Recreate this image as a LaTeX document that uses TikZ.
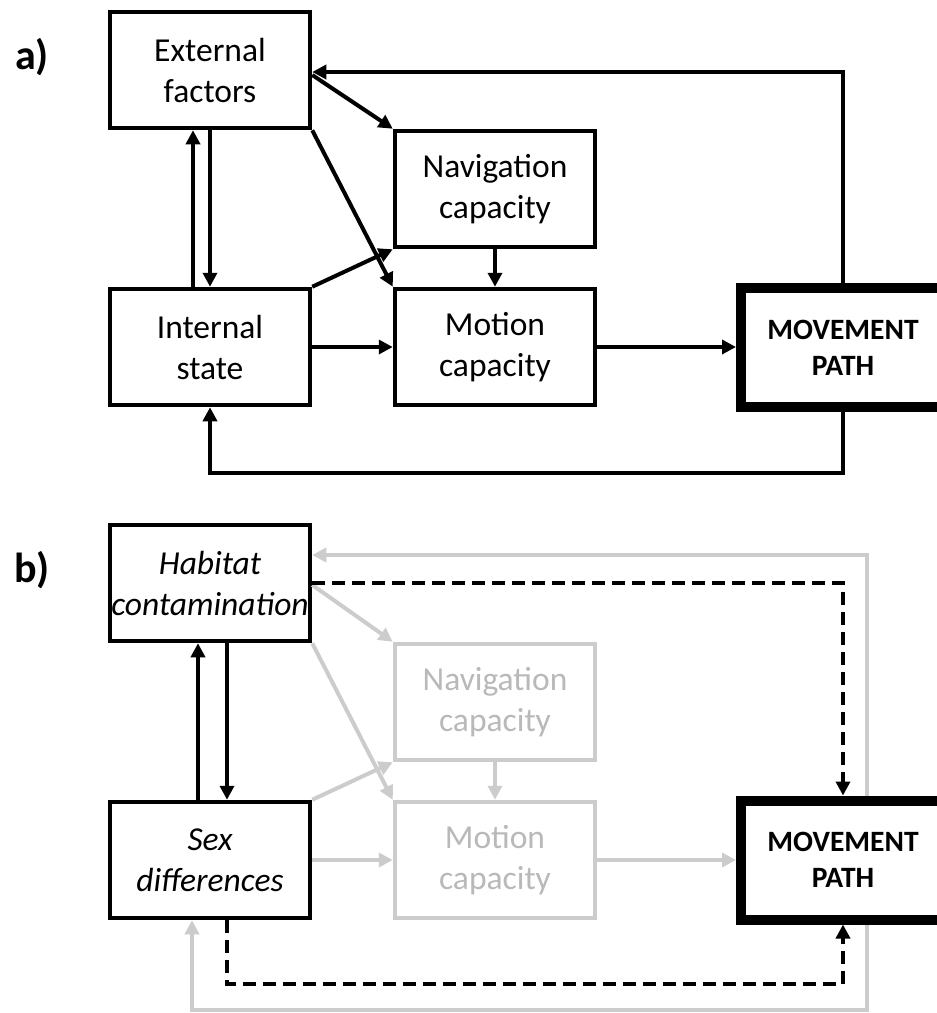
\documentclass[tikz,border=0pt]{standalone}
\usepackage{fontspec}
\setmainfont{Carlito}
\usetikzlibrary{arrows.meta}
\tikzset{
	box/.style={draw, line width=4.5pt, fill=white, minimum width=200pt, minimum height=116pt, inner sep=0pt, align=center, font=\fontsize{33.5}{41}\selectfont},
	mainbox/.style={box, line width=10pt, minimum width=204pt, minimum height=119pt, font=\bfseries\fontsize{29.5}{36}\selectfont},
	greybox/.style={box, draw=gray!40, text=gray!55},
	arr/.style={line width=4pt, -{Triangle[length=14pt, width=14pt]}},
	garr/.style={arr, draw=gray!40, color=gray!40},
	darr/.style={arr, dash pattern=on 13pt off 7pt},
	panel/.style={font=\bfseries\fontsize{42}{42}\selectfont}
}

\begin{document}
\begin{tikzpicture}[x=1pt, y=-1pt]
			%%%%% START %%%%%
			\useasboundingbox (0, 0) rectangle (937, 1013);
			
			%%%%% a) %%%%%
			\node[panel] (la) at (32, 57) {a)};
			
			\node[box] (ext) at (210, 70) {External\\factors};
			\node[box] (nav) at (495, 189) {Navigation\\capacity};
			\node[box] (int) at (210, 347) {Internal\\state};
			\node[box] (mot) at (495, 347) {Motion\\capacity};
			\node[mainbox] (mov) at (843, 347.5) {MOVEMENT\\PATH};
			
			\draw[arr] (mov.north) |- ([yshift=-2pt]ext.east);
			\draw[arr] (mov.south) -- ++(0, 61) -| (int.south);
			\draw[arr] ([xshift=-17pt]int.north) -- ([xshift=-17pt]ext.south);
			\draw[arr] (ext.south) -- (int.north);
			\draw[arr] ([yshift=-5pt]ext.east) -- (nav.north west);
			\draw[arr] (ext.south east) -- (mot.north west);
			\draw[arr] (int.north east) -- (nav.south west);
			\draw[arr] (nav.south) -- (mot.north);
			\draw[arr] (int.east) -- (int.east -| mot.west);
			\draw[arr] (mot.east) -- (mot.east -| mov.west);
			
			%%%%% b) %%%%%
			\node[panel] (lb) at (32, 570) {b)};
			
			\node[box] (hab) at (210, 583) {\itshape Habitat\\\itshape contamination};
			\node[greybox] (nav2) at (495, 702) {Navigation\\capacity};
			\node[box] (sex) at (210, 860) {\itshape Sex\\\itshape differences};
			\node[greybox] (mot2) at (495, 860) {Motion\\capacity};
			\node[mainbox] (mov2) at (843, 860) {MOVEMENT\\PATH};
			
			\draw[garr] ([xshift=24pt]mov2.north) |- ([yshift=28pt]hab.east);
			\draw[garr] ([xshift=24pt]mov2.south) -- ++(0, 85) -| ([xshift=-18pt]sex.south);
			\draw[garr] ([yshift=-2pt]hab.east) -- (nav2.north west);
			\draw[garr] (hab.south east) -- (mot2.north west);
			\draw[garr] (sex.north east) -- (nav2.south west);
			\draw[garr] (nav2.south) -- (mot2.north);
			\draw[garr] (sex.east) -- (sex.east -| mot2.west);
			\draw[garr] (mot2.east) -- (mot2.east -| mov2.west);
			
			\draw[darr] (hab.east) -| (mov2.north);
			\draw[darr] ([xshift=17pt]sex.south) -- ++(0, 64) -| (mov2.south);
			\draw[arr] ([xshift=-12pt]sex.north) -- ([xshift=-12pt]hab.south);
			\draw[arr] ([xshift=17pt]hab.south) -- ([xshift=17pt]sex.north);
			%%%%% END %%%%%
\end{tikzpicture}
\end{document}
